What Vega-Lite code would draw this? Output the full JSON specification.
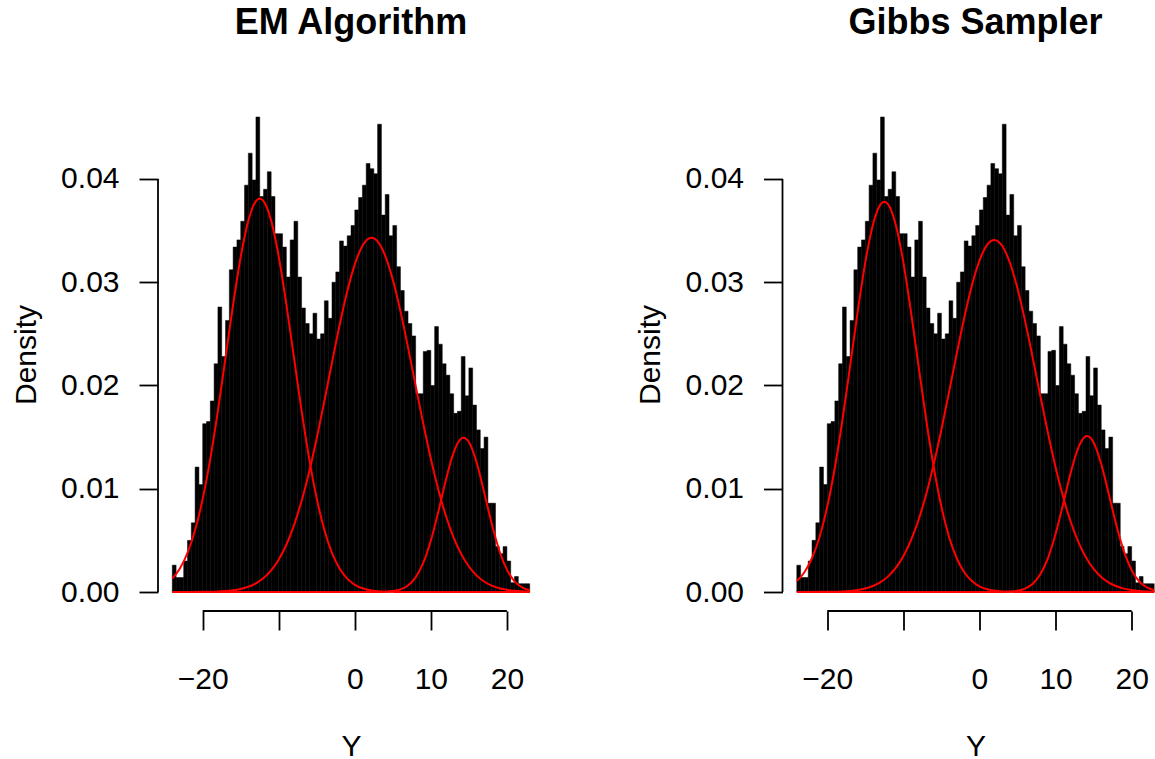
{
"$schema": "https://vega.github.io/schema/vega-lite/v6.json",
"background": "white",
"padding": {"left": 11, "top": 5, "right": 0, "bottom": 0},
"spacing": 91.5,
"config": {
  "view": {"stroke": null},
  "font": "Liberation Sans",
  "axis": {"domain": false, "grid": false, "tickColor": "black", "tickWidth": 1.8, "tickSize": 19, "labelFontSize": 30, "labelColor": "black", "labelFont": "Liberation Sans", "titleFont": "Liberation Sans", "titleFontSize": 30, "titleFontWeight": "normal", "titleColor": "black", "labelOverlap": false, "labelFlush": false, "labelBound": false},
  "title": {"font": "Liberation Sans", "fontSize": 36, "fontWeight": "bold", "color": "black", "baseline": "alphabetic", "offset": 56, "anchor": "middle", "frame": "group"}
},
"datasets": {
  "hist": [
    {"x0": -24, "x1": -23.5, "d": 0.0026}, {"x0": -23.5, "x1": -23, "d": 0.0014}, {"x0": -23, "x1": -22.5, "d": 0.0014}, {"x0": -22.5, "x1": -22, "d": 0.003},
    {"x0": -22, "x1": -21.5, "d": 0.005}, {"x0": -21.5, "x1": -21, "d": 0.0067}, {"x0": -21, "x1": -20.5, "d": 0.0121}, {"x0": -20.5, "x1": -20, "d": 0.0104},
    {"x0": -20, "x1": -19.5, "d": 0.0163}, {"x0": -19.5, "x1": -19, "d": 0.0165}, {"x0": -19, "x1": -18.5, "d": 0.0185}, {"x0": -18.5, "x1": -18, "d": 0.0221},
    {"x0": -18, "x1": -17.5, "d": 0.0276}, {"x0": -17.5, "x1": -17, "d": 0.0228}, {"x0": -17, "x1": -16.5, "d": 0.0263}, {"x0": -16.5, "x1": -16, "d": 0.0312},
    {"x0": -16, "x1": -15.5, "d": 0.0334}, {"x0": -15.5, "x1": -15, "d": 0.0341}, {"x0": -15, "x1": -14.5, "d": 0.0359}, {"x0": -14.5, "x1": -14, "d": 0.0394},
    {"x0": -14, "x1": -13.5, "d": 0.0425}, {"x0": -13.5, "x1": -13, "d": 0.0399}, {"x0": -13, "x1": -12.5, "d": 0.046}, {"x0": -12.5, "x1": -12, "d": 0.0383},
    {"x0": -12, "x1": -11.5, "d": 0.039}, {"x0": -11.5, "x1": -11, "d": 0.0407}, {"x0": -11, "x1": -10.5, "d": 0.0383}, {"x0": -10.5, "x1": -10, "d": 0.0347},
    {"x0": -10, "x1": -9.5, "d": 0.0347}, {"x0": -9.5, "x1": -9, "d": 0.0334}, {"x0": -9, "x1": -8.5, "d": 0.0305}, {"x0": -8.5, "x1": -8, "d": 0.0341},
    {"x0": -8, "x1": -7.5, "d": 0.0359}, {"x0": -7.5, "x1": -7, "d": 0.0305}, {"x0": -7, "x1": -6.5, "d": 0.0275}, {"x0": -6.5, "x1": -6, "d": 0.026},
    {"x0": -6, "x1": -5.5, "d": 0.025}, {"x0": -5.5, "x1": -5, "d": 0.027}, {"x0": -5, "x1": -4.5, "d": 0.0245}, {"x0": -4.5, "x1": -4, "d": 0.025},
    {"x0": -4, "x1": -3.5, "d": 0.0282}, {"x0": -3.5, "x1": -3, "d": 0.0265}, {"x0": -3, "x1": -2.5, "d": 0.03}, {"x0": -2.5, "x1": -2, "d": 0.031},
    {"x0": -2, "x1": -1.5, "d": 0.034}, {"x0": -1.5, "x1": -1, "d": 0.0335}, {"x0": -1, "x1": -0.5, "d": 0.0345}, {"x0": -0.5, "x1": 0, "d": 0.0355},
    {"x0": 0, "x1": 0.5, "d": 0.037}, {"x0": 0.5, "x1": 1, "d": 0.0382}, {"x0": 1, "x1": 1.5, "d": 0.0394}, {"x0": 1.5, "x1": 2, "d": 0.0415},
    {"x0": 2, "x1": 2.5, "d": 0.041}, {"x0": 2.5, "x1": 3, "d": 0.0405}, {"x0": 3, "x1": 3.5, "d": 0.0453}, {"x0": 3.5, "x1": 4, "d": 0.0365},
    {"x0": 4, "x1": 4.5, "d": 0.0385}, {"x0": 4.5, "x1": 5, "d": 0.0345}, {"x0": 5, "x1": 5.5, "d": 0.0355}, {"x0": 5.5, "x1": 6, "d": 0.0315},
    {"x0": 6, "x1": 6.5, "d": 0.0292}, {"x0": 6.5, "x1": 7, "d": 0.0272}, {"x0": 7, "x1": 7.5, "d": 0.026}, {"x0": 7.5, "x1": 8, "d": 0.0248},
    {"x0": 8, "x1": 8.5, "d": 0.0192}, {"x0": 8.5, "x1": 9, "d": 0.0192}, {"x0": 9, "x1": 9.5, "d": 0.0233}, {"x0": 9.5, "x1": 10, "d": 0.0234},
    {"x0": 10, "x1": 10.5, "d": 0.02}, {"x0": 10.5, "x1": 11, "d": 0.0257}, {"x0": 11, "x1": 11.5, "d": 0.024}, {"x0": 11.5, "x1": 12, "d": 0.0221},
    {"x0": 12, "x1": 12.5, "d": 0.021}, {"x0": 12.5, "x1": 13, "d": 0.0192}, {"x0": 13, "x1": 13.5, "d": 0.0173}, {"x0": 13.5, "x1": 14, "d": 0.0175},
    {"x0": 14, "x1": 14.5, "d": 0.0228}, {"x0": 14.5, "x1": 15, "d": 0.019}, {"x0": 15, "x1": 15.5, "d": 0.0217}, {"x0": 15.5, "x1": 16, "d": 0.0181},
    {"x0": 16, "x1": 16.5, "d": 0.0157}, {"x0": 16.5, "x1": 17, "d": 0.0139}, {"x0": 17, "x1": 17.5, "d": 0.015}, {"x0": 17.5, "x1": 18, "d": 0.0086},
    {"x0": 18, "x1": 18.5, "d": 0.0086}, {"x0": 18.5, "x1": 19, "d": 0.0044}, {"x0": 19, "x1": 19.5, "d": 0.0037}, {"x0": 19.5, "x1": 20, "d": 0.0044},
    {"x0": 20, "x1": 20.5, "d": 0.003}, {"x0": 20.5, "x1": 21, "d": 0.0009}, {"x0": 21, "x1": 21.5, "d": 0.0015}, {"x0": 21.5, "x1": 22, "d": 0.0008},
    {"x0": 22, "x1": 22.5, "d": 0.0008}, {"x0": 22.5, "x1": 23, "d": 0.0008}
  ],
  "curves": [
    {"panel": "EM", "comp": "c1", "y": -24, "dens": 0.001291}, {"panel": "EM", "comp": "c1", "y": -23, "dens": 0.002267}, {"panel": "EM", "comp": "c1", "y": -22, "dens": 0.003782}, {"panel": "EM", "comp": "c1", "y": -21, "dens": 0.005997},
    {"panel": "EM", "comp": "c1", "y": -20, "dens": 0.00903}, {"panel": "EM", "comp": "c1", "y": -19, "dens": 0.01292}, {"panel": "EM", "comp": "c1", "y": -18, "dens": 0.017564}, {"panel": "EM", "comp": "c1", "y": -17, "dens": 0.022689},
    {"panel": "EM", "comp": "c1", "y": -16, "dens": 0.027847}, {"panel": "EM", "comp": "c1", "y": -15, "dens": 0.032466}, {"panel": "EM", "comp": "c1", "y": -14, "dens": 0.035966}, {"panel": "EM", "comp": "c1", "y": -13, "dens": 0.037857},
    {"panel": "EM", "comp": "c1", "y": -12.5, "dens": 0.0381}, {"panel": "EM", "comp": "c1", "y": -12, "dens": 0.037857}, {"panel": "EM", "comp": "c1", "y": -11, "dens": 0.035966}, {"panel": "EM", "comp": "c1", "y": -10, "dens": 0.032466},
    {"panel": "EM", "comp": "c1", "y": -9, "dens": 0.027847}, {"panel": "EM", "comp": "c1", "y": -8, "dens": 0.022689}, {"panel": "EM", "comp": "c1", "y": -7, "dens": 0.017564}, {"panel": "EM", "comp": "c1", "y": -6, "dens": 0.01292},
    {"panel": "EM", "comp": "c1", "y": -5, "dens": 0.00903}, {"panel": "EM", "comp": "c1", "y": -4, "dens": 0.005997}, {"panel": "EM", "comp": "c1", "y": -3, "dens": 0.003782}, {"panel": "EM", "comp": "c1", "y": -2, "dens": 0.002267},
    {"panel": "EM", "comp": "c1", "y": -1, "dens": 0.001291}, {"panel": "EM", "comp": "c1", "y": 0, "dens": 0.000698}, {"panel": "EM", "comp": "c1", "y": 1, "dens": 0.000359}, {"panel": "EM", "comp": "c1", "y": 2, "dens": 0.000175},
    {"panel": "EM", "comp": "c1", "y": 3, "dens": 0.000081}, {"panel": "EM", "comp": "c1", "y": 4, "dens": 0.000036}, {"panel": "EM", "comp": "c1", "y": 5, "dens": 0.000015}, {"panel": "EM", "comp": "c1", "y": 6, "dens": 0},
    {"panel": "EM", "comp": "c1", "y": 23, "dens": 0},
    {"panel": "EM", "comp": "c2", "y": -24, "dens": 0}, {"panel": "EM", "comp": "c2", "y": -20, "dens": 0.0000125}, {"panel": "EM", "comp": "c2", "y": -19, "dens": 0.000025}, {"panel": "EM", "comp": "c2", "y": -18, "dens": 0.000049},
    {"panel": "EM", "comp": "c2", "y": -17, "dens": 0.000092}, {"panel": "EM", "comp": "c2", "y": -16, "dens": 0.000168}, {"panel": "EM", "comp": "c2", "y": -15, "dens": 0.000297}, {"panel": "EM", "comp": "c2", "y": -14, "dens": 0.000507},
    {"panel": "EM", "comp": "c2", "y": -13, "dens": 0.000839}, {"panel": "EM", "comp": "c2", "y": -12, "dens": 0.001346}, {"panel": "EM", "comp": "c2", "y": -11, "dens": 0.00209}, {"panel": "EM", "comp": "c2", "y": -10, "dens": 0.003143},
    {"panel": "EM", "comp": "c2", "y": -9, "dens": 0.004576}, {"panel": "EM", "comp": "c2", "y": -8, "dens": 0.006452}, {"panel": "EM", "comp": "c2", "y": -7, "dens": 0.008812}, {"panel": "EM", "comp": "c2", "y": -6, "dens": 0.011652},
    {"panel": "EM", "comp": "c2", "y": -5, "dens": 0.014921}, {"panel": "EM", "comp": "c2", "y": -4, "dens": 0.018501}, {"panel": "EM", "comp": "c2", "y": -3, "dens": 0.02222}, {"panel": "EM", "comp": "c2", "y": -2, "dens": 0.025838},
    {"panel": "EM", "comp": "c2", "y": -1, "dens": 0.0291}, {"panel": "EM", "comp": "c2", "y": 0, "dens": 0.031734}, {"panel": "EM", "comp": "c2", "y": 1, "dens": 0.033516}, {"panel": "EM", "comp": "c2", "y": 2, "dens": 0.034278},
    {"panel": "EM", "comp": "c2", "y": 2.2, "dens": 0.0343}, {"panel": "EM", "comp": "c2", "y": 3, "dens": 0.033949}, {"panel": "EM", "comp": "c2", "y": 4, "dens": 0.032561}, {"panel": "EM", "comp": "c2", "y": 5, "dens": 0.030242},
    {"panel": "EM", "comp": "c2", "y": 6, "dens": 0.0272}, {"panel": "EM", "comp": "c2", "y": 7, "dens": 0.023691}, {"panel": "EM", "comp": "c2", "y": 8, "dens": 0.019983}, {"panel": "EM", "comp": "c2", "y": 9, "dens": 0.016323},
    {"panel": "EM", "comp": "c2", "y": 10, "dens": 0.012911}, {"panel": "EM", "comp": "c2", "y": 11, "dens": 0.009889}, {"panel": "EM", "comp": "c2", "y": 12, "dens": 0.007337}, {"panel": "EM", "comp": "c2", "y": 13, "dens": 0.005272},
    {"panel": "EM", "comp": "c2", "y": 14, "dens": 0.003667}, {"panel": "EM", "comp": "c2", "y": 15, "dens": 0.00247}, {"panel": "EM", "comp": "c2", "y": 16, "dens": 0.001611}, {"panel": "EM", "comp": "c2", "y": 17, "dens": 0.001018},
    {"panel": "EM", "comp": "c2", "y": 18, "dens": 0.000623}, {"panel": "EM", "comp": "c2", "y": 19, "dens": 0.000369}, {"panel": "EM", "comp": "c2", "y": 20, "dens": 0.000212}, {"panel": "EM", "comp": "c2", "y": 21, "dens": 0.000118},
    {"panel": "EM", "comp": "c2", "y": 22, "dens": 0.000063}, {"panel": "EM", "comp": "c2", "y": 23, "dens": 0.000033},
    {"panel": "EM", "comp": "c3", "y": -24, "dens": 0}, {"panel": "EM", "comp": "c3", "y": 3, "dens": 0.000007}, {"panel": "EM", "comp": "c3", "y": 4, "dens": 0.000027}, {"panel": "EM", "comp": "c3", "y": 5, "dens": 0.000087},
    {"panel": "EM", "comp": "c3", "y": 6, "dens": 0.000249}, {"panel": "EM", "comp": "c3", "y": 7, "dens": 0.000629}, {"panel": "EM", "comp": "c3", "y": 8, "dens": 0.001412}, {"panel": "EM", "comp": "c3", "y": 9, "dens": 0.002814},
    {"panel": "EM", "comp": "c3", "y": 10, "dens": 0.00498}, {"panel": "EM", "comp": "c3", "y": 11, "dens": 0.007825}, {"panel": "EM", "comp": "c3", "y": 12, "dens": 0.010916}, {"panel": "EM", "comp": "c3", "y": 13, "dens": 0.013521},
    {"panel": "EM", "comp": "c3", "y": 14, "dens": 0.01487}, {"panel": "EM", "comp": "c3", "y": 14.3, "dens": 0.01495}, {"panel": "EM", "comp": "c3", "y": 15, "dens": 0.014521}, {"panel": "EM", "comp": "c3", "y": 16, "dens": 0.01259},
    {"panel": "EM", "comp": "c3", "y": 17, "dens": 0.009692}, {"panel": "EM", "comp": "c3", "y": 18, "dens": 0.006625}, {"panel": "EM", "comp": "c3", "y": 19, "dens": 0.00402}, {"panel": "EM", "comp": "c3", "y": 20, "dens": 0.002166},
    {"panel": "EM", "comp": "c3", "y": 21, "dens": 0.001037}, {"panel": "EM", "comp": "c3", "y": 22, "dens": 0.00044}, {"panel": "EM", "comp": "c3", "y": 23, "dens": 0.000166},
    {"panel": "Gibbs", "comp": "c1", "y": -24, "dens": 0.001058}, {"panel": "Gibbs", "comp": "c1", "y": -23, "dens": 0.001918}, {"panel": "Gibbs", "comp": "c1", "y": -22, "dens": 0.003293}, {"panel": "Gibbs", "comp": "c1", "y": -21, "dens": 0.005358},
    {"panel": "Gibbs", "comp": "c1", "y": -20, "dens": 0.008257}, {"panel": "Gibbs", "comp": "c1", "y": -19, "dens": 0.012058}, {"panel": "Gibbs", "comp": "c1", "y": -18, "dens": 0.016682}, {"panel": "Gibbs", "comp": "c1", "y": -17, "dens": 0.021862},
    {"panel": "Gibbs", "comp": "c1", "y": -16, "dens": 0.027142}, {"panel": "Gibbs", "comp": "c1", "y": -15, "dens": 0.031922}, {"panel": "Gibbs", "comp": "c1", "y": -14, "dens": 0.035569}, {"panel": "Gibbs", "comp": "c1", "y": -13, "dens": 0.037545},
    {"panel": "Gibbs", "comp": "c1", "y": -12.5, "dens": 0.0378}, {"panel": "Gibbs", "comp": "c1", "y": -12, "dens": 0.037545}, {"panel": "Gibbs", "comp": "c1", "y": -11, "dens": 0.035569}, {"panel": "Gibbs", "comp": "c1", "y": -10, "dens": 0.031922},
    {"panel": "Gibbs", "comp": "c1", "y": -9, "dens": 0.027142}, {"panel": "Gibbs", "comp": "c1", "y": -8, "dens": 0.021862}, {"panel": "Gibbs", "comp": "c1", "y": -7, "dens": 0.016682}, {"panel": "Gibbs", "comp": "c1", "y": -6, "dens": 0.012058},
    {"panel": "Gibbs", "comp": "c1", "y": -5, "dens": 0.008257}, {"panel": "Gibbs", "comp": "c1", "y": -4, "dens": 0.005358}, {"panel": "Gibbs", "comp": "c1", "y": -3, "dens": 0.003293}, {"panel": "Gibbs", "comp": "c1", "y": -2, "dens": 0.001918},
    {"panel": "Gibbs", "comp": "c1", "y": -1, "dens": 0.001058}, {"panel": "Gibbs", "comp": "c1", "y": 0, "dens": 0.000553}, {"panel": "Gibbs", "comp": "c1", "y": 1, "dens": 0.000274}, {"panel": "Gibbs", "comp": "c1", "y": 2, "dens": 0.000128},
    {"panel": "Gibbs", "comp": "c1", "y": 3, "dens": 0.000057}, {"panel": "Gibbs", "comp": "c1", "y": 4, "dens": 0.000024}, {"panel": "Gibbs", "comp": "c1", "y": 5, "dens": 0}, {"panel": "Gibbs", "comp": "c1", "y": 23, "dens": 0},
    {"panel": "Gibbs", "comp": "c2", "y": -24, "dens": 0}, {"panel": "Gibbs", "comp": "c2", "y": -20, "dens": 0.000015}, {"panel": "Gibbs", "comp": "c2", "y": -19, "dens": 0.00003}, {"panel": "Gibbs", "comp": "c2", "y": -18, "dens": 0.000058},
    {"panel": "Gibbs", "comp": "c2", "y": -17, "dens": 0.000109}, {"panel": "Gibbs", "comp": "c2", "y": -16, "dens": 0.000197}, {"panel": "Gibbs", "comp": "c2", "y": -15, "dens": 0.000344}, {"panel": "Gibbs", "comp": "c2", "y": -14, "dens": 0.000582},
    {"panel": "Gibbs", "comp": "c2", "y": -13, "dens": 0.000954}, {"panel": "Gibbs", "comp": "c2", "y": -12, "dens": 0.001515}, {"panel": "Gibbs", "comp": "c2", "y": -11, "dens": 0.00233}, {"panel": "Gibbs", "comp": "c2", "y": -10, "dens": 0.003472},
    {"panel": "Gibbs", "comp": "c2", "y": -9, "dens": 0.005006}, {"panel": "Gibbs", "comp": "c2", "y": -8, "dens": 0.006994}, {"panel": "Gibbs", "comp": "c2", "y": -7, "dens": 0.009466}, {"panel": "Gibbs", "comp": "c2", "y": -6, "dens": 0.012406},
    {"panel": "Gibbs", "comp": "c2", "y": -5, "dens": 0.015744}, {"panel": "Gibbs", "comp": "c2", "y": -4, "dens": 0.019355}, {"panel": "Gibbs", "comp": "c2", "y": -3, "dens": 0.023041}, {"panel": "Gibbs", "comp": "c2", "y": -2, "dens": 0.026567},
    {"panel": "Gibbs", "comp": "c2", "y": -1, "dens": 0.029667}, {"panel": "Gibbs", "comp": "c2", "y": 0, "dens": 0.032088}, {"panel": "Gibbs", "comp": "c2", "y": 1, "dens": 0.033611}, {"panel": "Gibbs", "comp": "c2", "y": 1.95, "dens": 0.0341},
    {"panel": "Gibbs", "comp": "c2", "y": 3, "dens": 0.033504}, {"panel": "Gibbs", "comp": "c2", "y": 4, "dens": 0.031882}, {"panel": "Gibbs", "comp": "c2", "y": 5, "dens": 0.029384}, {"panel": "Gibbs", "comp": "c2", "y": 6, "dens": 0.026229},
    {"panel": "Gibbs", "comp": "c2", "y": 7, "dens": 0.022674}, {"panel": "Gibbs", "comp": "c2", "y": 8, "dens": 0.018985}, {"panel": "Gibbs", "comp": "c2", "y": 9, "dens": 0.015395}, {"panel": "Gibbs", "comp": "c2", "y": 10, "dens": 0.012091},
    {"panel": "Gibbs", "comp": "c2", "y": 11, "dens": 0.009197}, {"panel": "Gibbs", "comp": "c2", "y": 12, "dens": 0.006775}, {"panel": "Gibbs", "comp": "c2", "y": 13, "dens": 0.004834}, {"panel": "Gibbs", "comp": "c2", "y": 14, "dens": 0.003341},
    {"panel": "Gibbs", "comp": "c2", "y": 15, "dens": 0.002236}, {"panel": "Gibbs", "comp": "c2", "y": 16, "dens": 0.001449}, {"panel": "Gibbs", "comp": "c2", "y": 17, "dens": 0.00091}, {"panel": "Gibbs", "comp": "c2", "y": 18, "dens": 0.000553},
    {"panel": "Gibbs", "comp": "c2", "y": 19, "dens": 0.000326}, {"panel": "Gibbs", "comp": "c2", "y": 20, "dens": 0.000186}, {"panel": "Gibbs", "comp": "c2", "y": 21, "dens": 0.000103}, {"panel": "Gibbs", "comp": "c2", "y": 22, "dens": 0.000055},
    {"panel": "Gibbs", "comp": "c2", "y": 23, "dens": 0.000028},
    {"panel": "Gibbs", "comp": "c3", "y": -24, "dens": 0}, {"panel": "Gibbs", "comp": "c3", "y": 3, "dens": 0.000012}, {"panel": "Gibbs", "comp": "c3", "y": 4, "dens": 0.000041}, {"panel": "Gibbs", "comp": "c3", "y": 5, "dens": 0.000123},
    {"panel": "Gibbs", "comp": "c3", "y": 6, "dens": 0.000332}, {"panel": "Gibbs", "comp": "c3", "y": 7, "dens": 0.000801}, {"panel": "Gibbs", "comp": "c3", "y": 8, "dens": 0.001719}, {"panel": "Gibbs", "comp": "c3", "y": 9, "dens": 0.00329},
    {"panel": "Gibbs", "comp": "c3", "y": 10, "dens": 0.005614}, {"panel": "Gibbs", "comp": "c3", "y": 11, "dens": 0.008538}, {"panel": "Gibbs", "comp": "c3", "y": 12, "dens": 0.011578}, {"panel": "Gibbs", "comp": "c3", "y": 13, "dens": 0.013995},
    {"panel": "Gibbs", "comp": "c3", "y": 14, "dens": 0.015081}, {"panel": "Gibbs", "comp": "c3", "y": 14.15, "dens": 0.0151}, {"panel": "Gibbs", "comp": "c3", "y": 15, "dens": 0.014486}, {"panel": "Gibbs", "comp": "c3", "y": 16, "dens": 0.012404},
    {"panel": "Gibbs", "comp": "c3", "y": 17, "dens": 0.009469}, {"panel": "Gibbs", "comp": "c3", "y": 18, "dens": 0.006444}, {"panel": "Gibbs", "comp": "c3", "y": 19, "dens": 0.003908}, {"panel": "Gibbs", "comp": "c3", "y": 20, "dens": 0.002114},
    {"panel": "Gibbs", "comp": "c3", "y": 21, "dens": 0.001019}, {"panel": "Gibbs", "comp": "c3", "y": 22, "dens": 0.000438}, {"panel": "Gibbs", "comp": "c3", "y": 23, "dens": 0.000168}
  ]
},
"hconcat": [
  {
    "width": 386, "height": 513,
    "title": {"text": "EM Algorithm"},
    "layer": [
      {"data": {"name": "hist"}, "mark": {"type": "bar", "color": "black", "stroke": "black", "strokeWidth": 0.5},
       "encoding": {
         "x": {"field": "x0", "type": "quantitative", "title": "Y", "scale": {"domain": [-25.88, 24.88], "nice": false, "zero": false},
               "axis": {"values": [-20, -10, 0, 10, 20], "format": "d", "labelExpr": "datum.value === -10 ? '' : datum.label", "labelBaseline": "alphabetic", "labelPadding": 58, "titleY": 144, "titleX": 193, "titleBaseline": "alphabetic"}},
         "x2": {"field": "x1"},
         "y": {"field": "d", "type": "quantitative", "title": "Density", "scale": {"domain": [-0.00184, 0.04784], "nice": false, "zero": false},
               "axis": {"values": [0, 0.01, 0.02, 0.03, 0.04], "format": ".2f", "labelPadding": 20, "titleAngle": 270, "titleX": -123, "titleY": 256.5, "titleAlign": "center", "titleBaseline": "alphabetic"}},
         "y2": {"datum": 0}
       }},
      {"data": {"name": "curves"}, "transform": [{"filter": "datum.panel === 'EM'"}],
       "mark": {"type": "line", "color": "#FF0000", "strokeWidth": 2, "interpolate": "monotone"},
       "encoding": {"x": {"field": "y", "type": "quantitative", "title": "Y"}, "y": {"field": "dens", "type": "quantitative", "title": "Density"}, "detail": {"field": "comp"}}},
      {"data": {"values": [{}]}, "mark": {"type": "rule", "color": "black", "strokeWidth": 1.8},
       "encoding": {"x": {"datum": -25.88, "title": "Y"}, "y": {"datum": 0, "title": "Density"}, "y2": {"datum": 0.04}}},
      {"data": {"values": [{}]}, "mark": {"type": "rule", "color": "black", "strokeWidth": 1.8},
       "encoding": {"x": {"datum": -20, "title": "Y"}, "x2": {"datum": 20}, "y": {"datum": -0.00184, "title": "Density"}}}
    ]
  },
  {
    "width": 372, "height": 513,
    "title": {"text": "Gibbs Sampler", "dx": 7},
    "layer": [
      {"data": {"name": "hist"}, "mark": {"type": "bar", "color": "black", "stroke": "black", "strokeWidth": 0.5, "clip": true},
       "encoding": {
         "x": {"field": "x0", "type": "quantitative", "title": "Y", "scale": {"domain": [-25.88, 23.0], "nice": false, "zero": false},
               "axis": {"values": [-20, -10, 0, 10, 20], "format": "d", "labelExpr": "datum.value === -10 ? '' : datum.label", "labelBaseline": "alphabetic", "labelPadding": 58, "titleY": 144, "titleX": 193, "titleBaseline": "alphabetic"}},
         "x2": {"field": "x1"},
         "y": {"field": "d", "type": "quantitative", "title": "Density", "scale": {"domain": [-0.00184, 0.04784], "nice": false, "zero": false},
               "axis": {"values": [0, 0.01, 0.02, 0.03, 0.04], "format": ".2f", "labelPadding": 20, "titleAngle": 270, "titleX": -123, "titleY": 256.5, "titleAlign": "center", "titleBaseline": "alphabetic"}},
         "y2": {"datum": 0}
       }},
      {"data": {"name": "curves"}, "transform": [{"filter": "datum.panel === 'Gibbs'"}],
       "mark": {"type": "line", "color": "#FF0000", "strokeWidth": 2, "interpolate": "monotone", "clip": true},
       "encoding": {"x": {"field": "y", "type": "quantitative", "title": "Y"}, "y": {"field": "dens", "type": "quantitative", "title": "Density"}, "detail": {"field": "comp"}}},
      {"data": {"values": [{}]}, "mark": {"type": "rule", "color": "black", "strokeWidth": 1.8},
       "encoding": {"x": {"datum": -25.88, "title": "Y"}, "y": {"datum": 0, "title": "Density"}, "y2": {"datum": 0.04}}},
      {"data": {"values": [{}]}, "mark": {"type": "rule", "color": "black", "strokeWidth": 1.8},
       "encoding": {"x": {"datum": -20, "title": "Y"}, "x2": {"datum": 20}, "y": {"datum": -0.00184, "title": "Density"}}}
    ]
  }
]
}
